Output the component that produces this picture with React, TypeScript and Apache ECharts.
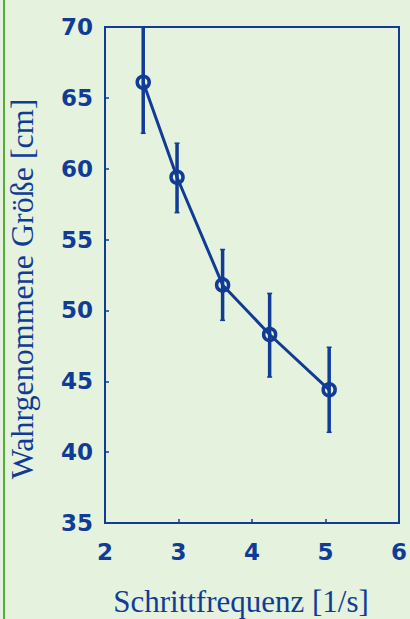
import React, { useEffect, useRef } from "react";
import * as echarts from "echarts";

const freq = [2.52, 2.98, 3.6, 4.24, 5.05];
const size = [66.1, 59.4, 51.8, 48.3, 44.4];
const errLow = [62.5, 56.9, 49.3, 45.3, 41.4];
const errHigh = [70.0, 61.8, 54.3, 51.2, 47.4];
const xTitle = "Schrittfrequenz [1/s]";
const yTitle = "Wahrgenommene Größe [cm]";

const BLUE = "#103c96";
const BG = "#e4f2de";

export default function App() {
  const ref = useRef<HTMLDivElement>(null);
  useEffect(() => {
    document.body.style.margin = "0";
    const chart = echarts.init(ref.current!, null, { renderer: "svg" });
    const points = freq.map((f, i) => [f, size[i]]);
    const errs = freq.map((f, i) => [f, errLow[i], errHigh[i]]);
    chart.setOption({
      animation: false,
      backgroundColor: BG,
      grid: {
        left: 105,
        top: 27,
        right: 11,
        bottom: 96,
        show: true,
        borderColor: BLUE,
        borderWidth: 2,
        backgroundColor: "transparent",
      },
      xAxis: {
        type: "value",
        min: 2,
        max: 6,
        interval: 1,
        axisLine: { lineStyle: { color: BLUE, width: 2 } },
        axisTick: { inside: true, length: 4, lineStyle: { color: BLUE, width: 1.5 } },
        splitLine: { show: false },
        axisLabel: {
          color: BLUE,
          fontFamily: "DejaVu Sans",
          fontWeight: "bold",
          fontSize: 23,
          margin: 17,
        },
      },
      yAxis: {
        type: "value",
        min: 35,
        max: 70,
        interval: 5,
        axisLine: { lineStyle: { color: BLUE, width: 2 } },
        axisTick: { inside: true, length: 4, lineStyle: { color: BLUE, width: 1.5 } },
        splitLine: { show: false },
        axisLabel: {
          color: BLUE,
          fontFamily: "DejaVu Sans",
          fontWeight: "bold",
          fontSize: 23,
          margin: 12,
        },
      },
      graphic: [
        {
          type: "rect",
          shape: { x: 3, y: 0, width: 2, height: 619 },
          style: { fill: "#5aaa3c" },
        },
        {
          type: "text",
          x: 21.5,
          y: 289,
          rotation: Math.PI / 2,
          style: {
            text: yTitle,
            fill: BLUE,
            font: "32px 'Liberation Serif'",
            align: "center",
            verticalAlign: "middle",
          },
        },
        {
          type: "text",
          x: 241,
          y: 601,
          style: {
            text: xTitle,
            fill: BLUE,
            font: "31px 'Liberation Serif'",
            align: "center",
            verticalAlign: "middle",
          },
        },
      ],
      series: [
        {
          type: "custom",
          data: errs,
          renderItem: (params: any, api: any) => {
            const x = api.value(0);
            const lo = api.coord([x, api.value(1)]);
            const hi = api.coord([x, api.value(2)]);
            const style = { stroke: BLUE, lineWidth: 3.5 };
            return {
              type: "group",
              children: [
                { type: "line", shape: { x1: lo[0], y1: lo[1], x2: hi[0], y2: hi[1] }, style },
                { type: "line", shape: { x1: lo[0] - 2.5, y1: lo[1], x2: lo[0] + 2.5, y2: lo[1] }, style: { stroke: BLUE, lineWidth: 1.5 } },
                { type: "line", shape: { x1: hi[0] - 2.5, y1: hi[1], x2: hi[0] + 2.5, y2: hi[1] }, style: { stroke: BLUE, lineWidth: 1.5 } },
              ],
            };
          },
          z: 3,
        },
        {
          type: "line",
          data: points,
          showSymbol: false,
          lineStyle: { color: BLUE, width: 3 },
          z: 2,
        },
        {
          type: "scatter",
          data: points,
          symbol: "circle",
          symbolSize: 12,
          itemStyle: { color: "rgba(0,0,0,0)", borderColor: BLUE, borderWidth: 3.5, opacity: 1 },
          emphasis: { disabled: true },
          z: 4,
        },
      ],
    });
    return () => chart.dispose();
  }, []);
  return <div ref={ref} style={{ width: 410, height: 619 }} />;
}
